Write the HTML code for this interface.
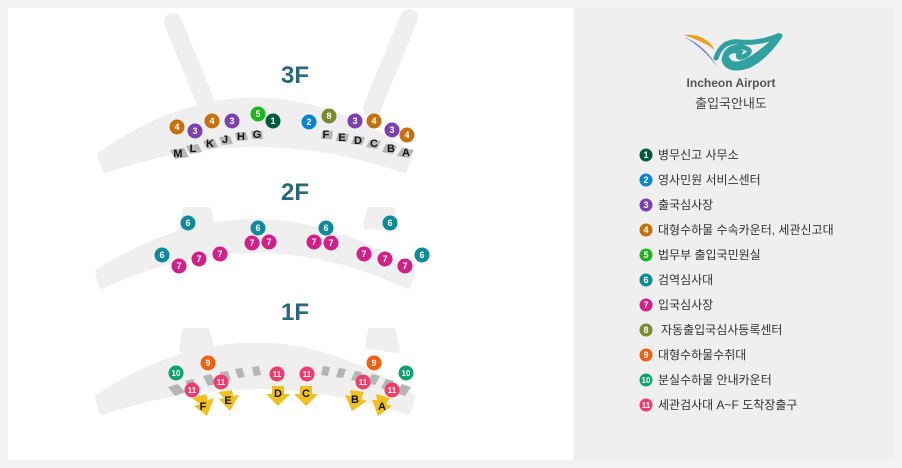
<!DOCTYPE html>
<html><head><meta charset="utf-8"><style>
html,body{margin:0;padding:0;background:#f3f3f3}
svg{display:block}
text{font-family:"Liberation Sans","Noto Sans CJK KR",sans-serif}
</style></head><body>
<svg width="902" height="468" viewBox="0 0 902 468" xmlns="http://www.w3.org/2000/svg">
<rect x="0" y="0" width="902" height="468" fill="#f3f3f3"/>
<rect x="8" y="8" width="565" height="452" fill="#fff"/>
<rect x="574" y="8" width="320" height="452" fill="#efefef"/>

<g stroke="#efefef" stroke-linecap="round" fill="none">
<line x1="173" y1="22" x2="208" y2="108" stroke-width="18"/>
<line x1="409" y1="18" x2="372" y2="108" stroke-width="18"/>
</g>
<g fill="#efefef" stroke="#efefef" stroke-width="6" stroke-linejoin="round">
<path d="M100,155 Q255,46 410,155 L404,170 Q255,118 106,170 Z"/>
<path d="M186,210 L208,210 L212,226 L182,228 Z M370,210 L392,210 L396,228 L366,226 Z"/>
<path d="M98,272 Q255,172 412,272 L408,286 Q255,214 102,286 Z"/>
<path d="M185,331 L207,331 L211,346 L182,350 Z M371,331 L393,331 L397,350 L368,346 Z"/>
<path d="M98,397 Q255,294 412,397 L408,412 Q255,360 102,412 Z"/>
</g>

<!-- 3F gate tags -->
<g fill="#b5b5b5">
<path d="M170,150 L184,148 L189,157 L175,159Z"/><path d="M186,146 L198,144 L202,152 L190,154Z"/>
<path d="M203,141 L214,139 L218,147 L207,149Z"/><path d="M219,137 L230,136 L233,144 L222,145Z"/>
<path d="M235,133 L246,132 L248,140 L237,141Z"/><path d="M251,131 L262,131 L263,139 L252,139Z"/>
<path d="M322,131 L333,131 L332,139 L321,139Z"/><path d="M338,133 L349,134 L347,142 L336,141Z"/>
<path d="M354,136 L365,137 L362,145 L351,144Z"/><path d="M370,140 L381,141 L377,149 L366,147Z"/>
<path d="M386,144 L397,146 L393,154 L382,152Z"/><path d="M402,148 L414,150 L409,158 L397,156Z"/>
</g>
<g font-size="11" font-weight="bold" fill="#111" text-anchor="middle">
<text x="178" y="157">M</text><text x="193" y="152">L</text><text x="210" y="147">K</text>
<text x="225" y="143">J</text><text x="241" y="140">H</text><text x="257" y="138">G</text>
<text x="326" y="138">F</text><text x="342" y="141">E</text><text x="358" y="144">D</text>
<text x="374" y="147">C</text><text x="391" y="152">B</text><text x="406" y="156">A</text>
</g>

<!-- 1F dashes -->
<g fill="#b5b5b5">
<path d="M168,387 L178,384 L185,392 L175,396Z"/><path d="M185,381 L193,379 L198,388 L190,390Z"/>
<path d="M203,376 L211,374 L216,384 L208,386Z"/><path d="M220,372 L228,371 L231,380 L223,381Z"/>
<path d="M235,369 L242,368 L245,377 L238,378Z"/><path d="M252,367 L259,366 L261,375 L254,376Z"/>
<path d="M323,366 L330,367 L328,376 L321,375Z"/><path d="M339,368 L346,369 L343,378 L336,377Z"/>
<path d="M355,371 L362,372 L358,381 L351,380Z"/><path d="M372,374 L380,376 L375,385 L367,383Z"/>
<path d="M386,379 L394,381 L389,390 L381,388Z"/><path d="M402,384 L411,387 L405,396 L396,393Z"/>
</g>
<g fill="#f0c020">
<path d="M192,398 L206,394 L208,400 L214,398 L207,416 L194,406 L200,404Z"/>
<path d="M218,392 L232,390 L233,396 L239,395 L230,411 L219,399 L224,398Z"/>
<path d="M272,386 L284,386 L284,394 L290,394 L278,406 L266,394 L272,394Z"/>
<path d="M300,386 L312,386 L312,394 L318,394 L306,406 L294,394 L300,394Z"/>
<path d="M350,390 L364,392 L361,399 L367,401 L352,411 L345,395 L351,396Z"/>
<path d="M376,394 L390,398 L386,404 L392,406 L378,416 L372,400 L377,400Z"/>
</g>
<g font-size="11" font-weight="bold" fill="#111" text-anchor="middle">
<text x="203" y="410">F</text><text x="228" y="404">E</text><text x="278" y="397">D</text>
<text x="306" y="397">C</text><text x="355" y="403">B</text><text x="382" y="410">A</text>
</g>

<g font-size="24" font-weight="bold" fill="#27697a" text-anchor="middle">
<text x="295" y="83">3F</text><text x="295" y="200">2F</text><text x="295" y="320">1F</text>
</g>

<g text-anchor="middle" font-size="9" font-weight="bold">
<circle cx="177" cy="127" r="7.5" fill="#c4700c"/><text x="177" y="130" fill="#fff">4</text>
<circle cx="195" cy="131" r="7.5" fill="#7b40b2"/><text x="195" y="134" fill="#fff">3</text>
<circle cx="212" cy="121" r="7.5" fill="#c4700c"/><text x="212" y="124" fill="#fff">4</text>
<circle cx="232" cy="121" r="7.5" fill="#7b40b2"/><text x="232" y="124" fill="#fff">3</text>
<circle cx="258" cy="114" r="7.5" fill="#1db41d"/><text x="258" y="117" fill="#fff">5</text>
<circle cx="273" cy="121" r="7.5" fill="#005a3c"/><text x="273" y="124" fill="#fff">1</text>
<circle cx="309" cy="122" r="7.5" fill="#0a82d0"/><text x="309" y="125" fill="#fff">2</text>
<circle cx="329" cy="116" r="7.5" fill="#7a8a30"/><text x="329" y="119" fill="#fff">8</text>
<circle cx="355" cy="121" r="7.5" fill="#7b40b2"/><text x="355" y="124" fill="#fff">3</text>
<circle cx="374" cy="121" r="7.5" fill="#c4700c"/><text x="374" y="124" fill="#fff">4</text>
<circle cx="392" cy="130" r="7.5" fill="#7b40b2"/><text x="392" y="133" fill="#fff">3</text>
<circle cx="407" cy="135" r="7.5" fill="#c4700c"/><text x="407" y="138" fill="#fff">4</text>
<circle cx="188" cy="223" r="7.5" fill="#108a9a"/><text x="188" y="226" fill="#fff">6</text>
<circle cx="258" cy="228" r="7.5" fill="#108a9a"/><text x="258" y="231" fill="#fff">6</text>
<circle cx="326" cy="228" r="7.5" fill="#108a9a"/><text x="326" y="231" fill="#fff">6</text>
<circle cx="390" cy="223" r="7.5" fill="#108a9a"/><text x="390" y="226" fill="#fff">6</text>
<circle cx="162" cy="255" r="7.5" fill="#108a9a"/><text x="162" y="258" fill="#fff">6</text>
<circle cx="422" cy="255" r="7.5" fill="#108a9a"/><text x="422" y="258" fill="#fff">6</text>
<circle cx="179" cy="266" r="7.5" fill="#d0208a"/><text x="179" y="269" fill="#fff">7</text>
<circle cx="199" cy="259" r="7.5" fill="#d0208a"/><text x="199" y="262" fill="#fff">7</text>
<circle cx="220" cy="254" r="7.5" fill="#d0208a"/><text x="220" y="257" fill="#fff">7</text>
<circle cx="252" cy="243" r="7.5" fill="#d0208a"/><text x="252" y="246" fill="#fff">7</text>
<circle cx="269" cy="242" r="7.5" fill="#d0208a"/><text x="269" y="245" fill="#fff">7</text>
<circle cx="314" cy="242" r="7.5" fill="#d0208a"/><text x="314" y="245" fill="#fff">7</text>
<circle cx="331" cy="243" r="7.5" fill="#d0208a"/><text x="331" y="246" fill="#fff">7</text>
<circle cx="364" cy="254" r="7.5" fill="#d0208a"/><text x="364" y="257" fill="#fff">7</text>
<circle cx="385" cy="259" r="7.5" fill="#d0208a"/><text x="385" y="262" fill="#fff">7</text>
<circle cx="405" cy="266" r="7.5" fill="#d0208a"/><text x="405" y="269" fill="#fff">7</text>
<circle cx="176" cy="373" r="7.5" fill="#10a070"/><text x="176" y="376" fill="#fff" font-size="8">10</text>
<circle cx="406" cy="373" r="7.5" fill="#10a070"/><text x="406" y="376" fill="#fff" font-size="8">10</text>
<circle cx="208" cy="363" r="7.5" fill="#f06010"/><text x="208" y="366" fill="#fff">9</text>
<circle cx="374" cy="363" r="7.5" fill="#f06010"/><text x="374" y="366" fill="#fff">9</text>
<circle cx="192" cy="390" r="7.5" fill="#f03c6a"/><text x="192" y="393" fill="#fff" font-size="8">11</text>
<circle cx="221" cy="382" r="7.5" fill="#f03c6a"/><text x="221" y="385" fill="#fff" font-size="8">11</text>
<circle cx="277" cy="374" r="7.5" fill="#f03c6a"/><text x="277" y="377" fill="#fff" font-size="8">11</text>
<circle cx="307" cy="374" r="7.5" fill="#f03c6a"/><text x="307" y="377" fill="#fff" font-size="8">11</text>
<circle cx="363" cy="382" r="7.5" fill="#f03c6a"/><text x="363" y="385" fill="#fff" font-size="8">11</text>
<circle cx="392" cy="390" r="7.5" fill="#f03c6a"/><text x="392" y="393" fill="#fff" font-size="8">11</text>
</g>

<path d="M684,35 Q705,33 715,50 Q706,43 684,35Z" fill="#f0a020"/>
<path d="M684,37 Q705,45 718,68 Q704,48 684,37Z" fill="#5a80d0"/>
<path d="M716,58 Q722,40 740,42 Q760,44 780,35 Q760,55 745,62 Q730,68 726,56 Q730,48 740,52 Q735,60 745,56 Q755,50 742,47 Q726,46 724,60 Q728,72 748,66 Q765,58 780,36" fill="none" stroke="#30a0a0" stroke-width="5" stroke-linecap="round"/>
<text x="731" y="87" font-size="12" font-weight="bold" fill="#555" text-anchor="middle">Incheon Airport</text>
<text x="731" y="108" font-size="13" fill="#444" text-anchor="middle">출입국안내도</text>

<g font-size="9" font-weight="bold" text-anchor="middle">
<circle cx="646" cy="155" r="6.5" fill="#005a3c"/><text x="646" y="158" fill="#fff">1</text>
<circle cx="646" cy="180" r="6.5" fill="#0a82d0"/><text x="646" y="183" fill="#fff">2</text>
<circle cx="646" cy="205" r="6.5" fill="#7b40b2"/><text x="646" y="208" fill="#fff">3</text>
<circle cx="646" cy="230" r="6.5" fill="#c4700c"/><text x="646" y="233" fill="#fff">4</text>
<circle cx="646" cy="255" r="6.5" fill="#1db41d"/><text x="646" y="258" fill="#fff">5</text>
<circle cx="646" cy="280" r="6.5" fill="#108a9a"/><text x="646" y="283" fill="#fff">6</text>
<circle cx="646" cy="305" r="6.5" fill="#d0208a"/><text x="646" y="308" fill="#fff">7</text>
<circle cx="646" cy="330" r="6.5" fill="#7a8a30"/><text x="646" y="333" fill="#fff">8</text>
<circle cx="646" cy="355" r="6.5" fill="#f06010"/><text x="646" y="358" fill="#fff">9</text>
<circle cx="646" cy="380" r="6.5" fill="#10a070"/><text x="646" y="383" fill="#fff" font-size="8">10</text>
<circle cx="646" cy="405" r="6.5" fill="#f03c6a"/><text x="646" y="408" fill="#fff" font-size="8">11</text>
</g>
<g font-size="12" fill="#333">
<text x="658" y="159">병무신고 사무소</text>
<text x="658" y="184">영사민원 서비스센터</text>
<text x="658" y="209">출국심사장</text>
<text x="658" y="234">대형수하물 수속카운터, 세관신고대</text>
<text x="658" y="259">법무부 출입국민원실</text>
<text x="658" y="284">검역심사대</text>
<text x="658" y="309">입국심사장</text>
<text x="661" y="334">자동출입국심사등록센터</text>
<text x="658" y="359">대형수하물수취대</text>
<text x="658" y="384">분실수하물 안내카운터</text>
<text x="658" y="409">세관검사대 A~F 도착장출구</text>
</g>
</svg>
</body></html>
